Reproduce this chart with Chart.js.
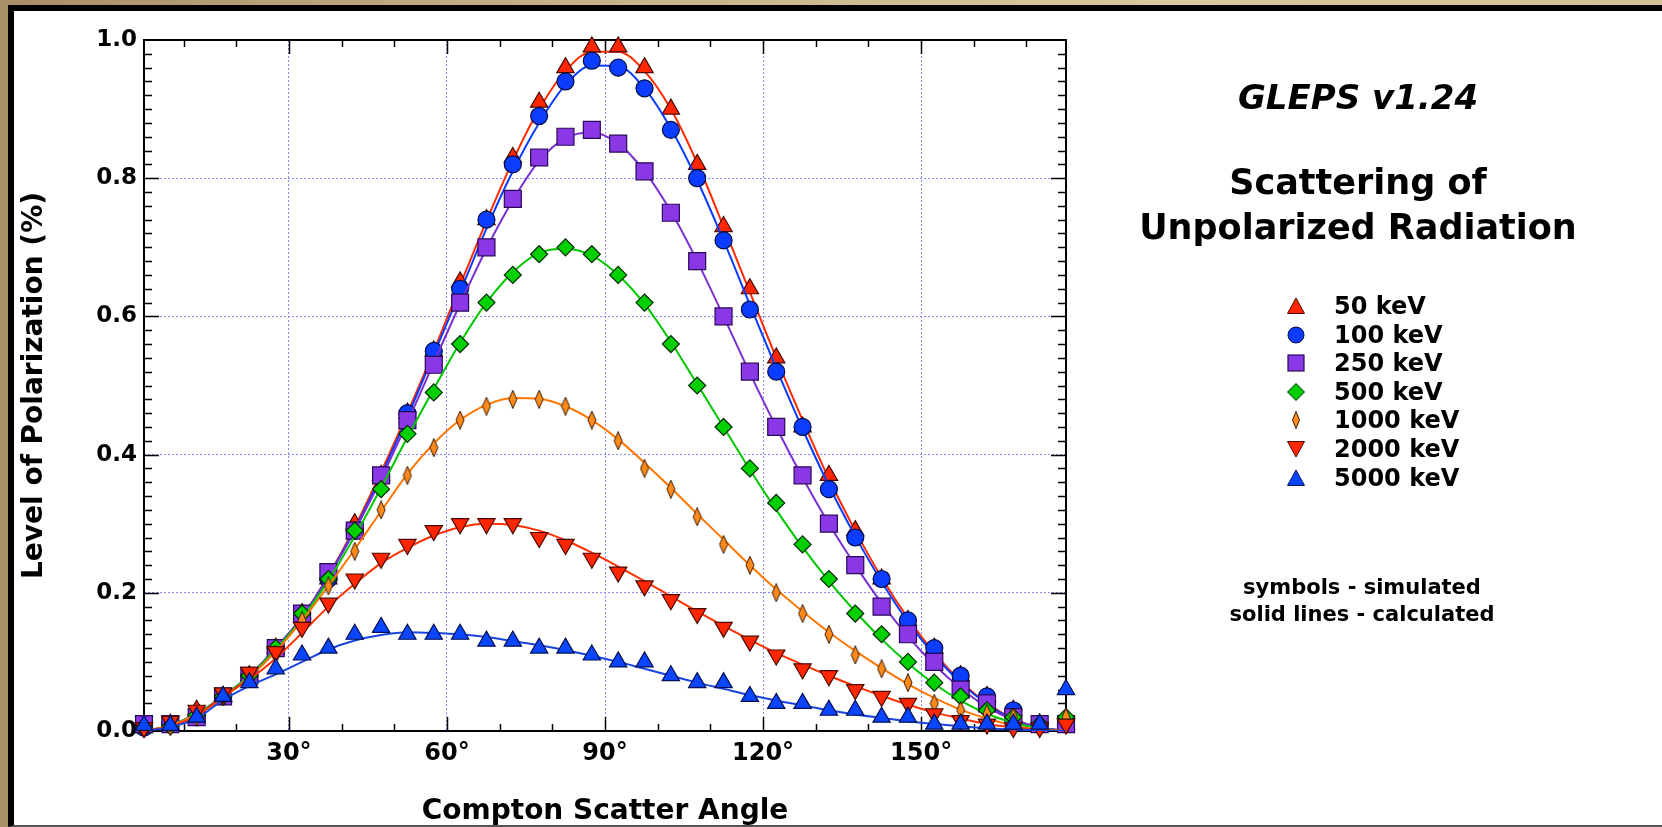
<!DOCTYPE html>
<html>
<head>
<meta charset="utf-8">
<script src="https://cdn.jsdelivr.net/npm/chart.js@4.4.1/dist/chart.umd.min.js"></script>
<style>
  html, body { margin: 0; padding: 0; }
  body {
    width: 1662px; height: 827px; overflow: hidden; position: relative;
    background: linear-gradient(90deg, #a98f66 0%, #c4ae84 30%, #d8c8a2 70%, #d2c09a 100%);
    font-family: "DejaVu Sans", sans-serif; font-weight: bold; color: #000;
  }
  #panel {
    position: absolute; left: 8px; top: 5px; width: 1680px; height: 822px;
    box-sizing: border-box; background: #fff;
    border-left: 6px solid #000; border-top: 6px solid #000; border-bottom: 2px solid #555;
  }
  #chart { position: absolute; left: 0; top: 0; }
  .txt { position: absolute; text-align: center; white-space: nowrap; }
  #legend { position: absolute; left: 1280px; top: 292px; width: 300px; }
  .row { position: relative; height: 28.6px; line-height: 28.6px; font-size: 24px; }
  .row svg { position: absolute; left: 7px; top: 5px; }
  .row span { position: absolute; left: 54px; top: 0; white-space: nowrap; }
</style>
</head>
<body>
<div id="panel"></div>
<canvas id="chart" width="1662" height="827"></canvas>

<div class="txt" style="left:1108px; top:80px; width:500px; font-size:34px; line-height:34px; font-style:italic;">GLEPS v1.24</div>
<div class="txt" style="left:1108px; top:160px; width:500px; font-size:35px; line-height:45px;">Scattering of<br>Unpolarized Radiation</div>
<div id="legend"></div>
<div class="txt" style="left:1112px; top:574px; width:500px; font-size:21px; line-height:27px;">symbols - simulated<br>solid lines - calculated</div>

<script>
// Compton scatter angle (deg)
const angles = [2.5, 7.5, 12.5, 17.5, 22.5, 27.5, 32.5, 37.5, 42.5, 47.5, 52.5, 57.5,
  62.5, 67.5, 72.5, 77.5, 82.5, 87.5, 92.5, 97.5, 102.5, 107.5, 112.5, 117.5,
  122.5, 127.5, 132.5, 137.5, 142.5, 147.5, 152.5, 157.5, 162.5, 167.5, 172.5, 177.5];

const seriesLabels = ['50 keV', '100 keV', '250 keV', '500 keV', '1000 keV', '2000 keV', '5000 keV'];

// simulated (symbols)
const sim50 = [0.005, 0.01, 0.03, 0.05, 0.08, 0.12, 0.17, 0.22, 0.30, 0.37, 0.46, 0.55, 0.65, 0.74, 0.83, 0.91, 0.96, 0.99, 0.99, 0.96, 0.90, 0.82, 0.73, 0.64, 0.54, 0.44, 0.37, 0.29, 0.22, 0.16, 0.12, 0.08, 0.05, 0.03, 0.01, 0.01];
const sim100 = [0.005, 0.01, 0.02, 0.05, 0.08, 0.12, 0.17, 0.22, 0.29, 0.37, 0.46, 0.55, 0.64, 0.74, 0.82, 0.89, 0.94, 0.97, 0.96, 0.93, 0.87, 0.80, 0.71, 0.61, 0.52, 0.44, 0.35, 0.28, 0.22, 0.16, 0.12, 0.08, 0.05, 0.03, 0.01, 0.01];
const sim250 = [0.01, 0.01, 0.02, 0.05, 0.08, 0.12, 0.17, 0.23, 0.29, 0.37, 0.45, 0.53, 0.62, 0.70, 0.77, 0.83, 0.86, 0.87, 0.85, 0.81, 0.75, 0.68, 0.60, 0.52, 0.44, 0.37, 0.30, 0.24, 0.18, 0.14, 0.10, 0.06, 0.04, 0.02, 0.01, 0.01];
const sim500 = [0.005, 0.007, 0.023, 0.05, 0.08, 0.12, 0.17, 0.22, 0.29, 0.35, 0.43, 0.49, 0.56, 0.62, 0.66, 0.69, 0.70, 0.69, 0.66, 0.62, 0.56, 0.50, 0.44, 0.38, 0.33, 0.27, 0.22, 0.17, 0.14, 0.10, 0.07, 0.05, 0.03, 0.02, 0.01, 0.02];
const sim1000 = [0.003, 0.006, 0.02, 0.05, 0.08, 0.11, 0.16, 0.21, 0.26, 0.32, 0.37, 0.41, 0.45, 0.47, 0.48, 0.48, 0.47, 0.45, 0.42, 0.38, 0.35, 0.31, 0.27, 0.24, 0.20, 0.17, 0.14, 0.11, 0.09, 0.07, 0.04, 0.03, 0.025, 0.02, 0.01, 0.02];
const sim2000 = [0.005, 0.014, 0.03, 0.055, 0.085, 0.115, 0.15, 0.185, 0.22, 0.25, 0.27, 0.29, 0.30, 0.30, 0.30, 0.28, 0.27, 0.25, 0.23, 0.21, 0.19, 0.17, 0.15, 0.13, 0.11, 0.09, 0.08, 0.06, 0.05, 0.04, 0.025, 0.015, 0.01, 0.005, 0.005, 0.01];
const sim5000 = [0.008, 0.008, 0.02, 0.05, 0.07, 0.09, 0.11, 0.12, 0.14, 0.15, 0.14, 0.14, 0.14, 0.13, 0.13, 0.12, 0.12, 0.11, 0.10, 0.10, 0.08, 0.07, 0.07, 0.05, 0.04, 0.04, 0.03, 0.03, 0.02, 0.02, 0.01, 0.01, 0.01, 0.01, 0.01, 0.06];

// calculated (solid lines)
const calc50 = [0, 0.008, 0.025, 0.05, 0.08, 0.12, 0.165, 0.225, 0.295, 0.375, 0.46, 0.55, 0.645, 0.738, 0.825, 0.9, 0.955, 0.983, 0.983, 0.955, 0.9, 0.822, 0.73, 0.635, 0.54, 0.45, 0.365, 0.29, 0.222, 0.163, 0.113, 0.072, 0.04, 0.018, 0.005, 0];
const calc100 = [0, 0.008, 0.025, 0.05, 0.08, 0.12, 0.165, 0.224, 0.292, 0.37, 0.455, 0.545, 0.635, 0.727, 0.81, 0.88, 0.935, 0.963, 0.962, 0.93, 0.872, 0.797, 0.71, 0.617, 0.525, 0.437, 0.355, 0.282, 0.216, 0.158, 0.11, 0.07, 0.039, 0.017, 0.005, 0];
const calc250 = [0, 0.008, 0.025, 0.05, 0.08, 0.12, 0.165, 0.223, 0.29, 0.365, 0.447, 0.533, 0.618, 0.698, 0.768, 0.825, 0.858, 0.866, 0.85, 0.81, 0.752, 0.68, 0.6, 0.518, 0.44, 0.367, 0.3, 0.24, 0.185, 0.137, 0.096, 0.062, 0.035, 0.016, 0.005, 0];
const calc500 = [0, 0.008, 0.025, 0.05, 0.08, 0.118, 0.163, 0.218, 0.282, 0.352, 0.425, 0.495, 0.562, 0.62, 0.664, 0.692, 0.698, 0.688, 0.66, 0.618, 0.563, 0.502, 0.44, 0.378, 0.32, 0.266, 0.217, 0.173, 0.133, 0.098, 0.068, 0.044, 0.025, 0.012, 0.004, 0];
const calc1000 = [0, 0.008, 0.024, 0.048, 0.078, 0.115, 0.16, 0.21, 0.263, 0.318, 0.372, 0.416, 0.45, 0.472, 0.482, 0.481, 0.47, 0.45, 0.422, 0.388, 0.352, 0.314, 0.277, 0.24, 0.205, 0.173, 0.143, 0.116, 0.091, 0.068, 0.048, 0.031, 0.018, 0.008, 0.002, 0];
const calc2000 = [0, 0.007, 0.022, 0.05, 0.075, 0.105, 0.142, 0.18, 0.213, 0.243, 0.265, 0.283, 0.295, 0.30, 0.298, 0.29, 0.276, 0.258, 0.238, 0.217, 0.195, 0.173, 0.152, 0.132, 0.113, 0.096, 0.08, 0.065, 0.051, 0.038, 0.027, 0.018, 0.01, 0.005, 0.002, 0];
const calc5000 = [0, 0.006, 0.018, 0.045, 0.065, 0.082, 0.1, 0.118, 0.131, 0.139, 0.143, 0.142, 0.14, 0.136, 0.13, 0.124, 0.117, 0.109, 0.1, 0.09, 0.08, 0.07, 0.061, 0.052, 0.044, 0.037, 0.03, 0.024, 0.019, 0.014, 0.01, 0.007, 0.004, 0.002, 0.001, 0];

const xTickValues = [30, 60, 90, 120, 150];

const simSeries = [sim50, sim100, sim250, sim500, sim1000, sim2000, sim5000];
const calcSeries = [calc50, calc100, calc250, calc500, calc1000, calc2000, calc5000];

// marker look per series
const markers = [
  { kind: 'tri',   fill: '#ff2600', edge: '#4a0800', line: '#ff2a00' },
  { kind: 'circ',  fill: '#0a3dff', edge: '#000a40', line: '#0a3cff' },
  { kind: 'sq',    fill: '#8a38e6', edge: '#2a0858', line: '#7a30d0' },
  { kind: 'dia',   fill: '#00d000', edge: '#002a00', line: '#00c800' },
  { kind: 'thin',  fill: '#ff8a1a', edge: '#3a1a00', line: '#ff7700' },
  { kind: 'down',  fill: '#ff2600', edge: '#4a0800', line: '#ff3000' },
  { kind: 'tri',   fill: '#0a45ff', edge: '#001050', line: '#1a44e0' }
];

function thinDiamond(fill, edge) {
  const c = document.createElement('canvas');
  c.width = 10; c.height = 19;
  const g = c.getContext('2d');
  g.beginPath();
  g.moveTo(5, 0.5); g.lineTo(9, 9.5); g.lineTo(5, 18.5); g.lineTo(1, 9.5);
  g.closePath();
  g.fillStyle = fill; g.fill();
  g.strokeStyle = edge; g.lineWidth = 1; g.stroke();
  return c;
}

function pointOpts(m) {
  switch (m.kind) {
    case 'tri': return { pointStyle: 'triangle', pointRadius: 10, rotation: 0 };
    case 'down': return { pointStyle: 'triangle', pointRadius: 10, rotation: 180 };
    case 'circ': return { pointStyle: 'circle', pointRadius: 8.5, rotation: 0 };
    case 'sq': return { pointStyle: 'rect', pointRadius: 12, rotation: 0 };
    case 'dia': return { pointStyle: 'rectRot', pointRadius: 8.5, rotation: 0 };
    case 'thin': return { pointStyle: thinDiamond(m.fill, m.edge), pointRadius: 8, rotation: 0 };
  }
}

const datasets = [];
seriesLabels.forEach((label, k) => {
  const m = markers[k];
  datasets.push({
    label: label + ' calculated',
    data: angles.map((a, i) => ({ x: a, y: calcSeries[k][i] })),
    showLine: true,
    borderColor: m.line,
    borderWidth: 2,
    pointRadius: 0,
    cubicInterpolationMode: 'monotone',
    order: 40 - 2 * k
  });
  const p = pointOpts(m);
  datasets.push({
    label: label,
    data: angles.map((a, i) => ({ x: a, y: simSeries[k][i] })),
    showLine: false,
    pointStyle: p.pointStyle,
    pointRadius: p.pointRadius,
    pointRotation: p.rotation,
    backgroundColor: m.fill,
    borderColor: m.edge,
    pointBorderWidth: 1.2,
    clip: false,
    order: 39 - 2 * k
  });
});

// frame + inward ticks on all four sides
const frameTicks = {
  id: 'frameTicks',
  beforeDatasetsDraw(chart) {
    const { ctx, chartArea: a, scales: { x, y } } = chart;
    ctx.save();
    ctx.strokeStyle = '#000';
    ctx.lineWidth = 1.5;
    ctx.beginPath();
    for (let v = 10; v < 178; v += 10) {
      const px = Math.round(x.getPixelForValue(v)) + 0.5;
      const len = v % 30 === 0 ? 14 : 7;
      ctx.moveTo(px, a.bottom); ctx.lineTo(px, a.bottom - len);
      ctx.moveTo(px, a.top); ctx.lineTo(px, a.top + len);
    }
    for (let i = 1; i < 50; i++) {
      const py = Math.round(y.getPixelForValue(i / 50)) + 0.5;
      const len = i % 10 === 0 ? 15 : 8;
      ctx.moveTo(a.left, py); ctx.lineTo(a.left + len, py);
      ctx.moveTo(a.right, py); ctx.lineTo(a.right - len, py);
    }
    ctx.stroke();
    ctx.lineWidth = 2;
    ctx.strokeRect(a.left, a.top, a.right - a.left, a.bottom - a.top);
    ctx.restore();
  }
};

const xTickFont = { family: 'DejaVu Sans', size: 24, weight: 'bold' };
const yTickFont = { family: 'DejaVu Sans', size: 23, weight: 'bold' };
const titleFont = { family: 'DejaVu Sans', size: 28, weight: 'bold', lineHeight: 1 };

new Chart(document.getElementById('chart'), {
  type: 'scatter',
  data: { datasets },
  options: {
    responsive: false,
    animation: false,
    events: [],
    layout: { padding: { top: 40, right: 596, left: 0, bottom: 0 } },
    plugins: { legend: { display: false }, tooltip: { enabled: false } },
    scales: {
      x: {
        type: 'linear',
        min: 2.5,
        max: 177.5,
        afterBuildTicks: axis => { axis.ticks = xTickValues.map(v => ({ value: v })); },
        afterFit: axis => { axis.height = 96; },
        ticks: { color: '#000', font: xTickFont, padding: 8, callback: v => v + '°' },
        grid: { color: '#8a8aff', lineWidth: 1, drawTicks: false },
        border: { display: false, dash: [2, 2] },
        title: { display: true, text: 'Compton Scatter Angle', color: '#000', font: titleFont, padding: { top: 0, bottom: 1 } }
      },
      y: {
        min: 0,
        max: 1,
        afterFit: axis => { axis.width = 144; },
        ticks: { stepSize: 0.2, color: '#000', font: yTickFont, padding: 7, callback: v => v.toFixed(1) },
        grid: { color: '#8a8aff', lineWidth: 1, drawTicks: false },
        border: { display: false, dash: [2, 2] },
        title: { display: true, text: 'Level of Polarization (%)', color: '#000', font: titleFont, padding: { top: 21, bottom: 0 } }
      }
    }
  },
  plugins: [frameTicks]
});

// legend on the right, built from the same series
function markerSvg(m) {
  const f = m.fill, e = m.edge;
  let shape = '';
  if (m.kind === 'tri') shape = `<polygon points="9,1 17.5,16.5 0.5,16.5" fill="${f}" stroke="${e}" stroke-width="1"/>`;
  if (m.kind === 'down') shape = `<polygon points="0.5,1.5 17.5,1.5 9,17" fill="${f}" stroke="${e}" stroke-width="1"/>`;
  if (m.kind === 'circ') shape = `<circle cx="9" cy="9" r="8" fill="${f}" stroke="${e}" stroke-width="1"/>`;
  if (m.kind === 'sq') shape = `<rect x="1" y="1" width="16" height="16" fill="${f}" stroke="${e}" stroke-width="1.2"/>`;
  if (m.kind === 'dia') shape = `<polygon points="9,0.5 17.5,9 9,17.5 0.5,9" fill="${f}" stroke="${e}" stroke-width="1"/>`;
  if (m.kind === 'thin') shape = `<polygon points="9,0.5 12.5,9 9,17.5 5.5,9" fill="${f}" stroke="${e}" stroke-width="1"/>`;
  return `<svg width="18" height="18" viewBox="0 0 18 18">${shape}</svg>`;
}

const legend = document.getElementById('legend');
seriesLabels.forEach((label, k) => {
  const row = document.createElement('div');
  row.className = 'row';
  row.innerHTML = markerSvg(markers[k]) + '<span>' + label + '</span>';
  legend.appendChild(row);
});
</script>
</body>
</html>
